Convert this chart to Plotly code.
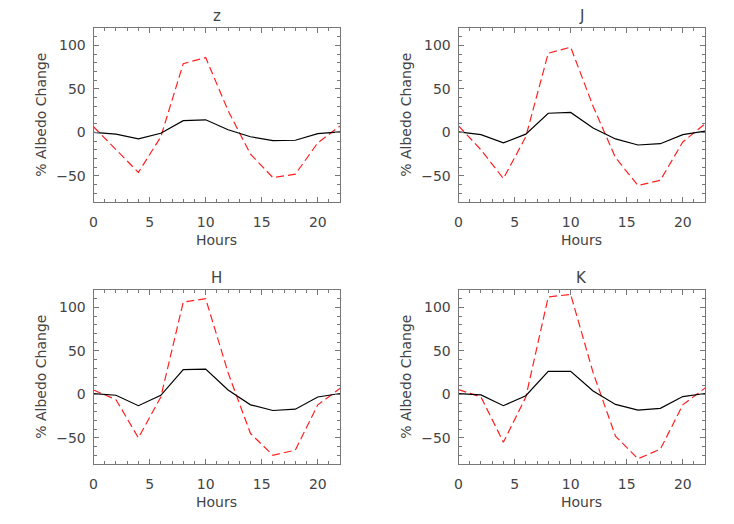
import plotly.graph_objects as go
from plotly.subplots import make_subplots

hours = [0, 2, 4, 6, 8, 10, 12, 14, 16, 18, 20, 22]
bands = ["z", "J", "H", "K"]

z_solid = [0, -2, -7.5, -1, 13.5, 14.5, 3, -5, -9.5, -9, -1.5, 0.5]
z_dashed = [6.5, -20, -46, -5, 79, 86, 25, -25, -52, -48, -12, 7.5]
J_solid = [0.5, -2.5, -12, -2, 22, 23, 5, -7.5, -14.5, -13, -2.5, 1.5]
J_dashed = [7.5, -20, -53, -5, 91, 98, 30, -29, -61, -55, -11, 10]
H_solid = [1, -1, -13, -1, 28.5, 29, 5, -12, -18.5, -17, -3, 1]
H_dashed = [5, -6, -50, -3, 106, 110, 25, -45, -70, -64, -12, 7]
K_solid = [1, -0.5, -13, -1.5, 26.5, 26.5, 4, -11.5, -18, -16, -2.5, 1]
K_dashed = [5.5, -3, -55, -3, 112, 115, 25, -48, -74, -63, -12, 7.5]

solid = [z_solid, J_solid, H_solid, K_solid]
dashed = [z_dashed, J_dashed, H_dashed, K_dashed]

FONT = "DejaVu Sans"
TEXT = "#444444"
AXIS = "#777777"
W, H = 734, 524
PAGE_OFFSET = 8  # body margin of the html page


def px_x(px):
    return (px - PAGE_OFFSET) / W


def px_y(py):
    return 1 - (py - PAGE_OFFSET) / H


fig = make_subplots(rows=2, cols=2)

x_boxes = [(90, 338), (457, 705)]
y_boxes = [(28, 202), (290, 464)]

for i, band in enumerate(bands):
    r, c = i // 2 + 1, i % 2 + 1
    fig.add_trace(go.Scatter(
        x=hours, y=dashed[i], mode="lines",
        line=dict(color="#ff2020", width=1.2, dash="8px,4px"),
        showlegend=False,
    ), row=r, col=c)
    fig.add_trace(go.Scatter(
        x=hours, y=solid[i], mode="lines",
        line=dict(color="#000000", width=1.2),
        showlegend=False,
    ), row=r, col=c)

    left, right = x_boxes[c - 1]
    top, bottom = y_boxes[r - 1]
    fig.update_xaxes(
        domain=[px_x(left), px_x(right)], range=[0, 22], tickvals=[0, 5, 10, 15, 20],
        ticks="inside", ticklen=5, tickcolor=AXIS, mirror="allticks",
        showline=True, linecolor=AXIS, linewidth=1, showgrid=False, zeroline=False,
        minor=dict(dtick=1, ticks="inside", ticklen=3, tickcolor=AXIS, showgrid=False),
        ticklabelstandoff=7,
        row=r, col=c,
    )
    fig.update_yaxes(
        domain=[px_y(bottom), px_y(top)], range=[-80, 120], tickvals=[-50, 0, 50, 100],
        ticks="inside", ticklen=5, tickcolor=AXIS, mirror="allticks",
        showline=True, linecolor=AXIS, linewidth=1, showgrid=False, zeroline=False,
        minor=dict(dtick=10, ticks="inside", ticklen=3, tickcolor=AXIS, showgrid=False),
        ticklabelstandoff=4,
        row=r, col=c,
    )

    xc = (left + right) / 2
    yc = (top + bottom) / 2
    # panel title
    fig.add_annotation(text=band, x=px_x(xc), y=px_y(top - 12), xref="paper", yref="paper",
                       xanchor="center", yanchor="middle", showarrow=False,
                       font=dict(size=15, color=TEXT, family=FONT))
    # x title
    fig.add_annotation(text="Hours", x=px_x(xc), y=px_y(bottom + 38), xref="paper", yref="paper",
                       xanchor="center", yanchor="middle", showarrow=False,
                       font=dict(size=14, color=TEXT, family=FONT))
    # y title
    fig.add_annotation(text="% Albedo Change", x=px_x(left - 53), y=px_y(yc), xref="paper", yref="paper",
                       xanchor="center", yanchor="middle", textangle=-90, showarrow=False,
                       font=dict(size=14, color=TEXT, family=FONT))

fig.update_layout(
    width=W, height=H,
    margin=dict(l=0, r=0, t=0, b=0),
    paper_bgcolor="white", plot_bgcolor="white",
    font=dict(family=FONT, size=14, color=TEXT),
)

fig.write_html("out.html")
